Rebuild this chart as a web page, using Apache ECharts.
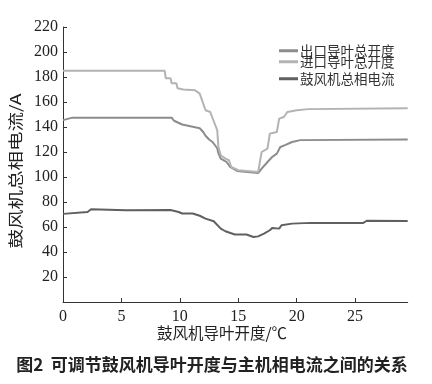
<!DOCTYPE html>
<html>
<head>
<meta charset="utf-8">
<script src="https://cdn.jsdelivr.net/npm/echarts@6/dist/echarts.min.js"></script>
<style>html,body{margin:0;padding:0;background:#fff;}#c{width:432px;height:384px;}</style>
</head>
<body>
<div id="c"></div>
<script>
var seriesNames = ['出口导叶总开度', '进口导叶总开度', '鼓风机总相电流'];
var xTicks = [0, 5, 10, 15, 20, 25];
var yTicks = [20, 40, 60, 80, 100, 120, 140, 160, 180, 200, 220];
var outletOpening = [[0,145.5],[0.8,147.5],[9.3,147.5],[9.5,145],[10.2,142],[11.7,139],[12,136],[12.2,133],[12.5,130],[12.8,128],[13.2,123],[13.3,119],[13.5,114.7],[14,112],[14.3,108],[14.9,104.8],[16.7,103.2],[17,106.7],[17.5,112],[17.9,116],[18.3,118.7],[18.6,124],[19,125.5],[19.6,128],[20.3,129.5],[29.5,130]];
var inletOpening = [[0,185],[8.7,185],[8.8,179],[9.2,179],[9.3,175],[9.7,175],[9.8,171],[10.3,170],[11.3,169.4],[11.7,166.7],[12.2,153.4],[12.6,152],[13.2,137.4],[13.3,124],[13.5,117.4],[13.9,114.7],[14.2,113.4],[14.4,108],[15,105.4],[16.7,104],[17,120],[17.5,122.7],[17.7,134.7],[18.3,136],[18.5,146.7],[18.9,148],[19.2,152],[20,153.4],[21,154.3],[29.5,155]];
var fanCurrent = [[0,70.5],[2.1,72],[2.4,74.2],[5.4,73.4],[9.2,73.6],[9.9,72],[10.2,70.8],[11.1,70.8],[11.7,69],[12.2,66.7],[12.9,64.6],[13.5,58.7],[13.9,56.6],[14.7,54],[15.7,54],[16.3,52],[16.7,52.5],[17.2,54.7],[17.7,57.4],[17.9,59.2],[18.5,58.7],[18.7,61.4],[19.6,62.7],[21.2,63.3],[25.7,63.3],[26,65],[29.5,64.8]];
var xName = '鼓风机导叶开度/℃';
var yName = '鼓风机总相电流/A';
var caption = '图2  可调节鼓风机导叶开度与主机相电流之间的关系';

var colors = ['#8c8c8c', '#b3b3b3', '#606060'];
var serif = 'Liberation Serif';
var chart = echarts.init(document.getElementById('c'));
function mkLegend(i, top) {
  return {
    data: [seriesNames[i]], left: 279, top: top, itemWidth: 19, itemHeight: 3,
    itemGap: 2, icon: 'rect', padding: 0,
    textStyle: { fontFamily: 'Noto Sans CJK SC', fontSize: 13.5, color: '#333', padding: [0,0,0,-3] }
  };
}
chart.setOption({
  animation: false,
  backgroundColor: '#fff',
  color: colors,
  textStyle: { fontFamily: serif },
  grid: { left: 63, top: 27, right: 24.3, bottom: 82, containLabel: false },
  legend: [mkLegend(0, 44), mkLegend(1, 55), mkLegend(2, 72)],
  xAxis: {
    type: 'value', min: 0, max: 29.5, interval: 5,
    axisLine: { lineStyle: { color: '#333', width: 1 } },
    axisTick: { inside: true, length: 4, lineStyle: { color: '#333' } },
    splitLine: { show: false },
    axisLabel: { fontFamily: serif, fontSize: 16, color: '#222', margin: 7,
      showMaxLabel: false,
      formatter: function (v) { return xTicks.indexOf(v) >= 0 ? String(v) : ''; } }
  },
  yAxis: {
    type: 'value', min: 0, max: 220, interval: 20,
    axisLine: { show: true, lineStyle: { color: '#333', width: 1 } },
    axisTick: { show: true, inside: true, length: 4, lineStyle: { color: '#333' } },
    splitLine: { show: false },
    axisLabel: { fontFamily: serif, fontSize: 16, color: '#222', margin: 5,
      formatter: function (v) { return yTicks.indexOf(v) >= 0 ? String(v) : ''; } }
  },
  series: [
    { name: seriesNames[0], type: 'line', data: outletOpening, showSymbol: false, symbol: 'none', lineStyle: { width: 2, color: colors[0] }, itemStyle: { color: colors[0] } },
    { name: seriesNames[1], type: 'line', data: inletOpening, showSymbol: false, symbol: 'none', lineStyle: { width: 2, color: colors[1] }, itemStyle: { color: colors[1] } },
    { name: seriesNames[2], type: 'line', data: fanCurrent, showSymbol: false, symbol: 'none', lineStyle: { width: 2, color: colors[2] }, itemStyle: { color: colors[2] } }
  ],
  graphic: [
    { type: 'text', x: 222, y: 333, style: { text: xName, fontFamily: 'Noto Sans CJK SC', fontSize: 15.5, fill: '#222', textAlign: 'center', textVerticalAlign: 'middle' } },
    { type: 'text', x: 15, y: 171, rotation: Math.PI / 2, scaleX: 1.3, style: { text: yName, fontFamily: 'Noto Sans CJK SC', fontSize: 15, fill: '#222', textAlign: 'center', textVerticalAlign: 'middle' } },
    { type: 'text', x: 212, y: 365, style: { text: caption, fontFamily: 'Noto Sans CJK SC', fontSize: 17, fontWeight: 'bold', fill: '#222', textAlign: 'center', textVerticalAlign: 'middle' } }
  ]
});
</script>
</body>
</html>
